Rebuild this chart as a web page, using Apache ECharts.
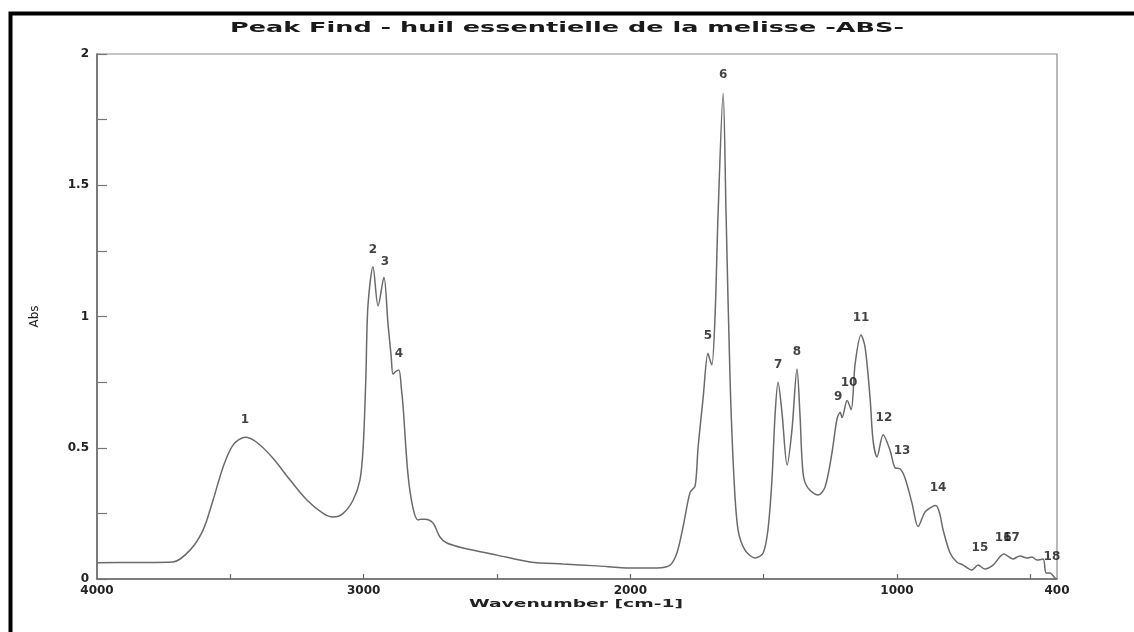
<!DOCTYPE html>
<html>
<head>
<meta charset="utf-8">
<script src="https://cdn.jsdelivr.net/npm/echarts@6/dist/echarts.min.js"></script>
<style>
html, body { margin: 0; padding: 0; background: #fff; }
#main { width: 1134px; height: 632px; }
</style>
</head>
<body>
<div id="main"></div>
<script>
// spectre (cm-1 / Abs)
var waveNumbers = [4000, 3850, 3715, 3651, 3602, 3565, 3527, 3490, 3445, 3400, 3340, 3276, 3212, 3152, 3115, 3077, 3040, 3014, 3002, 2992,
    2984, 2965, 2946, 2924, 2909, 2897, 2890, 2880, 2868, 2858, 2852, 2834, 2815, 2796, 2785, 2770, 2740, 2714, 2688, 2627,
    2500, 2376, 2252, 2125, 2001, 1900, 1851, 1825, 1802, 1776, 1757, 1746, 1727, 1709, 1700, 1694, 1682, 1671, 1652, 1641,
    1626, 1611, 1596, 1570, 1532, 1502, 1484, 1469, 1457, 1446, 1431, 1412, 1394, 1375, 1364, 1352, 1334, 1296, 1270, 1244,
    1225, 1213, 1206, 1187, 1172, 1157, 1135, 1120, 1101, 1090, 1075, 1052, 1026, 1007, 989, 970, 944, 921, 895, 869,
    854, 840, 827, 801, 776, 752, 719, 696, 670, 640, 599, 565, 539, 512, 494, 475, 452, 441, 426, 411, 404];
var absorbance = [0.062, 0.063, 0.065, 0.11, 0.187, 0.30, 0.427, 0.51, 0.54, 0.52, 0.46, 0.377, 0.30, 0.25, 0.236, 0.25, 0.30, 0.377, 0.50, 0.76,
    1.04, 1.19, 1.04, 1.15, 0.975, 0.85, 0.78, 0.79, 0.796, 0.72, 0.655, 0.40, 0.27, 0.225, 0.228, 0.228, 0.213, 0.16, 0.137, 0.118,
    0.091, 0.065, 0.057, 0.05, 0.042, 0.042, 0.053, 0.10, 0.20, 0.33, 0.355, 0.50, 0.69, 0.86, 0.83, 0.815, 1.01, 1.39, 1.85, 1.39,
    0.76, 0.377, 0.187, 0.11, 0.08, 0.099, 0.187, 0.377, 0.63, 0.75, 0.63, 0.434, 0.567, 0.80, 0.63, 0.40, 0.347, 0.32, 0.35, 0.48,
    0.61, 0.635, 0.615, 0.68, 0.645, 0.82, 0.93, 0.885, 0.69, 0.53, 0.465, 0.55, 0.49, 0.423, 0.42, 0.385, 0.29, 0.20, 0.255, 0.275,
    0.28, 0.25, 0.187, 0.099, 0.065, 0.053, 0.034, 0.053, 0.038, 0.053, 0.095, 0.076, 0.088, 0.08, 0.084, 0.072, 0.076, 0.023, 0.023, 0.008, 0];

// numeros des pics (position du texte)
var peakNames = ['1', '2', '3', '4', '5', '6', '7', '8', '9', '10', '11', '12', '13', '14', '15', '16', '17', '18'];
var peakLabelWave = [3445, 2965, 2920, 2868, 1709, 1652, 1446, 1375, 1221, 1180, 1135, 1049, 981, 846, 689, 602, 571, 419];
var peakLabelAbs = [0.606, 1.253, 1.21, 0.857, 0.926, 1.92, 0.815, 0.865, 0.693, 0.747, 0.994, 0.613, 0.488, 0.347, 0.118, 0.156, 0.156, 0.084];

var xLabelValues = [4000, 3000, 2000, 1000, 400];
var xTickValues = [3500, 3000, 2500, 2000, 1500, 1000, 500];

var titleText = 'Peak Find - huil essentielle de la melisse -ABS-';
var xAxisName = 'Wavenumber [cm-1]';
var yAxisName = 'Abs';

// l'image est étirée en largeur : on étire le texte pareil
function stretchFor(text, font, width) {
    var ctx = document.createElement('canvas').getContext('2d');
    ctx.font = font;
    return width / ctx.measureText(text).width;
}

var titleFont = 'bold 14px "DejaVu Sans"';
var nameFont = 'bold 11px "DejaVu Sans"';

var spectrum = [];
for (var i = 0; i < waveNumbers.length; i++) {
    spectrum.push([waveNumbers[i], absorbance[i]]);
}
var peaks = [];
for (var j = 0; j < peakNames.length; j++) {
    peaks.push({ name: peakNames[j], value: [peakLabelWave[j], peakLabelAbs[j]] });
}

var myChart = echarts.init(document.getElementById('main'), null, { renderer: 'canvas' });

myChart.setOption({
    backgroundColor: '#fff',
    animation: false,
    grid: {
        left: 97,
        right: 77,
        top: 54,
        bottom: 53,
        show: true,
        borderColor: '#8a8a8a',
        borderWidth: 1.2,
        outerBoundsMode: 'none'
    },
    graphic: [{
        type: 'rect',
        shape: { x: 10.5, y: 13.5, width: 1200, height: 700 },
        style: { fill: 'none', stroke: '#000', lineWidth: 4 },
        silent: true
    }, {
        type: 'text',
        x: 567,
        y: 28,
        scaleX: stretchFor(titleText, titleFont, 674),
        style: {
            text: titleText,
            font: titleFont,
            fill: '#1a1a1a',
            textAlign: 'center',
            textVerticalAlign: 'middle'
        }
    }, {
        type: 'text',
        x: 576,
        y: 604,
        scaleX: stretchFor(xAxisName, nameFont, 214),
        style: {
            text: xAxisName,
            font: nameFont,
            fill: '#222',
            textAlign: 'center',
            textVerticalAlign: 'middle'
        }
    }],
    xAxis: {
        type: 'value',
        inverse: true,
        min: 400,
        max: 4000,
        splitLine: { show: false },
        axisLine: { lineStyle: { color: '#666', width: 1.5 } },
        axisTick: {
            show: true,
            inside: true,
            length: 5,
            customValues: xTickValues,
            lineStyle: { color: '#666', width: 1.2 }
        },
        axisLabel: {
            customValues: xLabelValues,
            formatter: function(v) { return String(v); },
            margin: 6,
            color: '#222',
            fontFamily: 'DejaVu Sans',
            fontWeight: 'bold',
            fontSize: 12
        }
    },
    yAxis: {
        type: 'value',
        min: 0,
        max: 2,
        interval: 0.5,
        name: yAxisName,
        nameLocation: 'middle',
        nameRotate: 90,
        nameGap: 56,
        nameTextStyle: { color: '#222', fontFamily: 'DejaVu Sans', fontSize: 12 },
        splitLine: { show: false },
        axisLine: { lineStyle: { color: '#666', width: 1.5 } },
        axisTick: { inside: true, length: 10, lineStyle: { color: '#777', width: 1.2 } },
        minorTick: { show: true, splitNumber: 2, length: 10, lineStyle: { color: '#777', width: 1.2 } },
        axisLabel: {
            margin: 8,
            color: '#222',
            fontFamily: 'DejaVu Sans',
            fontWeight: 'bold',
            fontSize: 12
        }
    },
    series: [{
        name: 'Abs',
        type: 'line',
        data: spectrum,
        showSymbol: false,
        smooth: 0.3,
        lineStyle: { color: '#6a6a6a', width: 1.5 },
        z: 3
    }, {
        name: 'pics',
        type: 'scatter',
        data: peaks,
        symbolSize: 0,
        silent: true,
        label: {
            show: true,
            position: 'inside',
            formatter: '{b}',
            color: '#111',
            fontFamily: 'DejaVu Sans',
            fontWeight: 'bold',
            fontSize: 12
        },
        z: 4
    }]
});
</script>
</body>
</html>
